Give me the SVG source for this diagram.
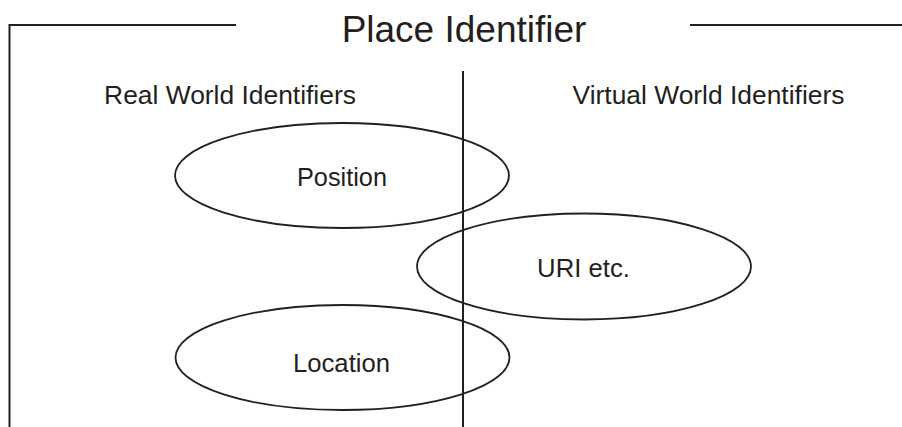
<svg xmlns="http://www.w3.org/2000/svg" width="902" height="427" viewBox="0 0 902 427">
<style>
.t{font-family:"Liberation Sans",Arial,sans-serif;fill:#231f20;text-anchor:middle}
.ln{stroke:#231f20;stroke-width:2;fill:none}
.el{stroke:#231f20;stroke-width:1.8;fill:none}
</style>
<rect width="902" height="427" fill="#fff"/>
<g id="frame">
<path class="ln" d="M9.5,427 V25 H236"/>
<line class="ln" x1="690" y1="25" x2="902" y2="25"/>
<text class="t" x="464" y="42" font-size="37">Place Identifier</text>
</g>
<g id="connectors">
<line class="ln" x1="463" y1="71" x2="463" y2="427"/>
</g>
<g id="labels">
<text class="t" x="230" y="104" font-size="26.4">Real World Identifiers</text>
<text class="t" x="708.5" y="104" font-size="26.4">Virtual World Identifiers</text>
</g>
<g id="position">
<ellipse class="el" cx="342" cy="175.5" rx="167" ry="52.5"/>
<text class="t" x="342" y="186" font-size="25.3">Position</text>
</g>
<g id="uri">
<ellipse class="el" cx="584" cy="266.5" rx="167" ry="53"/>
<text class="t" x="583.5" y="277" font-size="25.7">URI etc.</text>
</g>
<g id="location">
<ellipse class="el" cx="342.5" cy="357.5" rx="167" ry="52.5"/>
<text class="t" x="341.5" y="372" font-size="25.7">Location</text>
</g>
</svg>
